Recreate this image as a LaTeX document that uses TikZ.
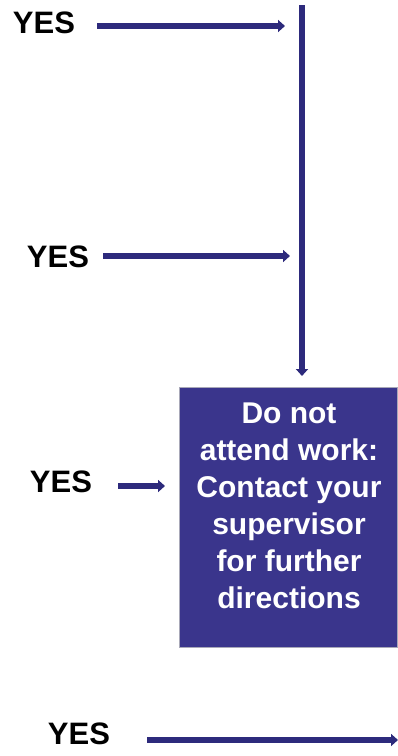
\documentclass[tikz,border=0pt]{standalone}
\usepackage{fontspec}
\setmainfont{Liberation Sans}
\usepackage{xcolor}
\usetikzlibrary{arrows.meta}
\definecolor{flowline}{HTML}{2D2A7C}
\definecolor{stopfill}{HTML}{3A358C}
\definecolor{stopedge}{HTML}{A8A8B8}

\begin{document}
\begin{tikzpicture}[x=1pt, y=-1pt, >={Triangle[length=7pt, width=12pt]},
  yeslabel/.style={font=\fontsize{31}{37}\selectfont\bfseries, inner sep=0pt},
  flow/.style={->, flowline, line width=5.5pt}]
\useasboundingbox (0,0) rectangle (398,756);
\node[yeslabel] (yes1) at (44,22.5) {YES};
\node[yeslabel] (yes2) at (58,256.5) {YES};
\node[yeslabel] (yes3) at (61,482) {YES};
\node[yeslabel] (yes4) at (79,734) {YES};
\node[rectangle, fill=stopfill, draw=stopedge, line width=0.8pt, minimum width=218pt, minimum height=260pt, inner sep=0pt] (stop) at (288,517) {};
\node[font=\fontsize{30}{37}\selectfont\bfseries, text=white, align=center, inner sep=0pt] (stoptext) at (289,506) {Do not\\attend work:\\Contact your\\supervisor\\for further\\directions};
\coordinate (hit1) at (285,26);
\coordinate (hit2) at (290,256);
\coordinate (hit3) at (165,486);
\coordinate (hit4) at (398,740);
\coordinate (top) at (302,5);
\coordinate (drop) at (302,376);
\draw[flow, shorten <=22pt] (yes1.east |- hit1) -- (hit1);
\draw[flow, shorten <=14pt] (yes2.east |- hit2) -- (hit2);
\draw[flow, shorten <=26pt] (yes3.east |- hit3) -- (hit3);
\draw[flow, shorten <=37pt] (yes4.east |- hit4) -- (hit4);
\draw[flow] (top) -- (drop);
\end{tikzpicture}
\end{document}
